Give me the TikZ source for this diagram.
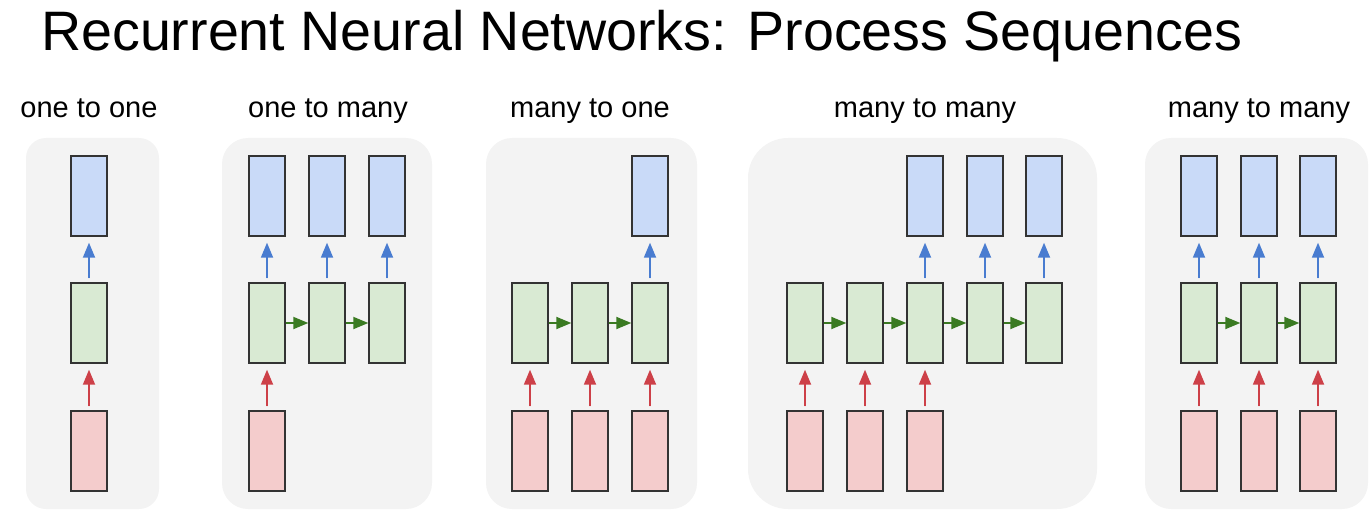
\documentclass[tikz,border=0pt]{standalone}
\usepackage{fontspec}
\setmainfont{Liberation Sans}
\usetikzlibrary{arrows.meta}
\definecolor{panelbg}{HTML}{F3F3F3}
\definecolor{outc}{HTML}{C9DAF8}
\definecolor{hidc}{HTML}{D9EAD3}
\definecolor{inc}{HTML}{F4CCCC}
\definecolor{edgec}{HTML}{333333}
\definecolor{bluea}{HTML}{1C5BC4}
\definecolor{reda}{HTML}{C0101A}
\definecolor{greena}{HTML}{3A7A22}
\tikzset{
  cell/.style={draw=edgec, line width=1.4pt, minimum width=36pt, minimum height=80pt, inner sep=0pt},
  outcell/.style={cell, fill=outc},
  hidcell/.style={cell, fill=hidc},
  incell/.style={cell, fill=inc},
  panel/.style={fill=panelbg, draw=none},
  ptitle/.style={font=\fontsize{29}{32}\selectfont, anchor=base, inner sep=0pt},
  uparrow/.style={line width=1.8pt, -{Triangle[length=15pt,width=12pt]}, shorten <=4pt, shorten >=6pt},
  bluearr/.style={uparrow, draw=bluea!80!white, fill=bluea},
  redarr/.style={uparrow, draw=reda!80!white, fill=reda},
  greenarr/.style={line width=1.8pt, draw=greena, -{Triangle[length=15pt,width=12pt]}, fill=greena}
}
\begin{document}
\begin{tikzpicture}[x=1pt,y=-1pt]
\useasboundingbox (0,0) rectangle (1370,513);
% title
\node[anchor=base west, inner sep=0pt, font=\fontsize{55.6}{60}\selectfont] (title) at (41,51) {Recurrent Neural Networks: Process Sequences};
% panels
\fill[panel, rounded corners=20pt] (26,138) rectangle (159,509);
\fill[panel, rounded corners=26pt] (222,138) rectangle (432,509);
\fill[panel, rounded corners=26pt] (486,138) rectangle (697,509);
\fill[panel, rounded corners=40pt] (748,138) rectangle (1097,509);
\fill[panel, rounded corners=26pt] (1145,138) rectangle (1368,509);
% panel titles
\node[ptitle] (t1) at (89,118) {one to one};
\node[ptitle] (t2) at (328,118) {one to many};
\node[ptitle] (t3) at (590,118) {many to one};
\node[ptitle] (t4) at (925,118) {many to many};
\node[ptitle] (t5) at (1259,118) {many to many};
% panel 1
\node[outcell] (a-o1) at (89,196) {};
\node[hidcell] (a-h1) at (89,323) {};
\node[incell] (a-i1) at (89,451) {};
\draw[bluearr] (a-h1) -- (a-o1);
\draw[redarr] (a-i1) -- (a-h1);
% panel 2: one to many
\foreach \i/\x in {1/267,2/327,3/387}{
  \node[outcell] (b-o\i) at (\x,196) {};
  \node[hidcell] (b-h\i) at (\x,323) {};
}
\node[incell] (b-i1) at (267,451) {};
\foreach \i in {1,2,3}{\draw[bluearr] (b-h\i) -- (b-o\i);}
\draw[redarr] (b-i1) -- (b-h1);
\draw[greenarr] (b-h1) -- (b-h2);
\draw[greenarr] (b-h2) -- (b-h3);
% panel 3: many to one
\foreach \i/\x in {1/530,2/590,3/650}{
  \node[hidcell] (c-h\i) at (\x,323) {};
  \node[incell] (c-i\i) at (\x,451) {};
}
\node[outcell] (c-o3) at (650,196) {};
\foreach \i in {1,2,3}{\draw[redarr] (c-i\i) -- (c-h\i);}
\draw[bluearr] (c-h3) -- (c-o3);
\draw[greenarr] (c-h1) -- (c-h2);
\draw[greenarr] (c-h2) -- (c-h3);
% panel 4: many to many (encoder-decoder)
\foreach \i/\x in {1/805,2/865,3/925,4/985,5/1044}{
  \node[hidcell] (d-h\i) at (\x,323) {};
}
\foreach \i/\x in {1/805,2/865,3/925}{
  \node[incell] (d-i\i) at (\x,451) {};
}
\foreach \i/\x in {3/925,4/985,5/1044}{
  \node[outcell] (d-o\i) at (\x,196) {};
}
\foreach \i in {1,2,3}{\draw[redarr] (d-i\i) -- (d-h\i);}
\foreach \i in {3,4,5}{\draw[bluearr] (d-h\i) -- (d-o\i);}
\draw[greenarr] (d-h1) -- (d-h2);
\draw[greenarr] (d-h2) -- (d-h3);
\draw[greenarr] (d-h3) -- (d-h4);
\draw[greenarr] (d-h4) -- (d-h5);
% panel 5: many to many (synced)
\foreach \i/\x in {1/1199,2/1259,3/1318}{
  \node[outcell] (e-o\i) at (\x,196) {};
  \node[hidcell] (e-h\i) at (\x,323) {};
  \node[incell] (e-i\i) at (\x,451) {};
}
\foreach \i in {1,2,3}{
  \draw[bluearr] (e-h\i) -- (e-o\i);
  \draw[redarr] (e-i\i) -- (e-h\i);
}
\draw[greenarr] (e-h1) -- (e-h2);
\draw[greenarr] (e-h2) -- (e-h3);
\end{tikzpicture}
\end{document}
